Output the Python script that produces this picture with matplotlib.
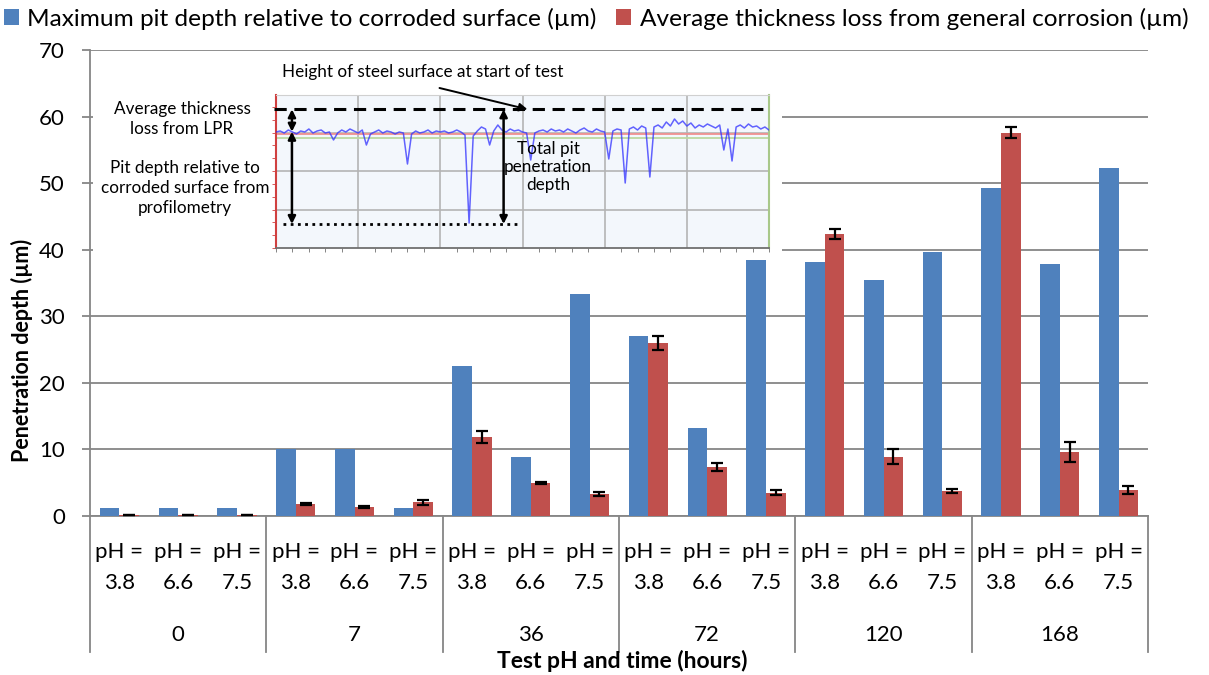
import numpy as np
import matplotlib
matplotlib.use('Agg')
import matplotlib.pyplot as plt
from matplotlib.patches import Rectangle
from matplotlib.transforms import blended_transform_factory

plt.rcParams['font.family'] = ['Lato', 'DejaVu Sans']

# test times (hours) and pH values
hours = ['0', '7', '36', '72', '120', '168']
ph_levels = ['3.8', '6.6', '7.5']

# max pit depth relative to corroded surface (um)
pit_depth = [1.2, 1.2, 1.2,
             10.0, 10.0, 1.2,
             22.6, 8.9, 33.3,
             27.1, 13.2, 38.4,
             38.1, 35.5, 39.6,
             49.2, 37.8, 52.3]
# average thickness loss from general corrosion (um)
thick_loss = [0.15, 0.15, 0.15,
              1.8, 1.35, 2.05,
              11.9, 4.95, 3.3,
              26.0, 7.4, 3.5,
              42.3, 8.9, 3.7,
              57.6, 9.6, 3.9]
thick_err = [0.0, 0.0, 0.0,
             0.1, 0.1, 0.4,
             0.9, 0.2, 0.35,
             1.0, 0.6, 0.35,
             0.75, 1.15, 0.3,
             0.8, 1.5, 0.6]

# profilometry trace in the inset (inset pixel units)
profile = [116, 117, 115, 118, 116, 114, 117, 116, 119, 115,
           117, 118, 115, 116, 108, 115, 118, 116, 119, 117,
           115, 118, 103, 114, 116, 118, 115, 117, 116, 114,
           116, 115, 84, 114, 117, 115, 116, 118, 115, 117,
           116, 117, 115, 116, 118, 116, 113, 25, 112, 117,
           121, 119, 103, 117, 123, 118, 116, 119, 117, 118,
           116, 115, 88, 115, 117, 118, 116, 119, 117, 118,
           116, 119, 117, 115, 118, 120, 117, 116, 119, 117,
           116, 89, 117, 119, 118, 65, 119, 121, 118, 122,
           120, 71, 121, 123, 120, 126, 122, 129, 124, 127,
           122, 125, 120, 123, 121, 124, 122, 120, 123, 98,
           119, 87, 121, 123, 120, 124, 121, 122, 119, 121, 118]

BLUE = '#4F81BD'
RED = '#C0504D'
GRID = '#868686'

W, H = 1209, 675


def fx(px):
    return px / W


def fy(py):
    return 1 - py / H


fig = plt.figure(figsize=(W / 100, H / 100), dpi=100)
ax = fig.add_axes([fx(90), fy(516), fx(1148) - fx(90), fy(50) - fy(516)])

x = np.arange(len(pit_depth))
w = 0.333
ax.bar(x - w / 2, pit_depth, w, color=BLUE, zorder=3,
       label='Maximum pit depth relative to corroded surface (µm)')
ax.bar(x + w / 2, thick_loss, w, color=RED, zorder=3,
       label='Average thickness loss from general corrosion (µm)')
ax.errorbar(x + w / 2, thick_loss, yerr=thick_err, fmt='none', ecolor='black',
            elinewidth=1.6, capsize=4, capthick=1.6, zorder=4)

ax.set_xlim(-0.5, len(x) - 0.5)
ax.set_ylim(0, 70)
ax.set_yticks(range(0, 71, 10))
ax.set_axisbelow(True)
ax.yaxis.grid(True, color=GRID, lw=1.3)
for s in ['top', 'right']:
    ax.spines[s].set_visible(False)
ax.spines['left'].set_color(GRID)
ax.spines['bottom'].set_color(GRID)
ax.spines['left'].set_linewidth(1.3)
ax.spines['bottom'].set_linewidth(1.3)
ax.tick_params(axis='y', direction='out', length=6, width=1.3, color=GRID,
               labelsize=16, pad=12)
ax.set_xticks([])

# category table under the axis
tr = blended_transform_factory(ax.transData, ax.transAxes)
for b in range(len(hours) + 1):
    ax.plot([b * 3 - 0.5] * 2, [0, -0.292], transform=tr, color=GRID, lw=1.3,
            clip_on=False)
for i in range(len(x)):
    ax.text(i, -0.0773, 'pH =', transform=tr, ha='center', va='center', fontsize=16)
    ax.text(i, -0.1438, ph_levels[i % 3], transform=tr, ha='center', va='center',
            fontsize=16)
for g, hr in enumerate(hours):
    ax.text(g * 3 + 1, -0.255, hr, transform=tr, ha='center', va='center', fontsize=16)

fig.text(fx(22), fy(350), 'Penetration depth (µm)', rotation=90, weight='bold',
         fontsize=15.5, ha='center', va='center')
fig.text(fx(622), fy(661), 'Test pH and time (hours)', weight='bold',
         fontsize=16.5, ha='center', va='center')

fig.legend(loc='upper left', bbox_to_anchor=(0.0, 0.994), ncol=2, frameon=False,
           fontsize=17.6, handlelength=0.62, handleheight=0.62, handletextpad=0.35,
           columnspacing=0.8, borderaxespad=0.0, borderpad=0.15)

# white panel behind the profilometry picture
ax.add_patch(Rectangle((fx(93), fy(256)), fx(782) - fx(93), fy(55) - fy(256),
                       transform=fig.transFigure, facecolor='white',
                       edgecolor='none', zorder=2, clip_on=False))

# inset profilometry picture
ins = fig.add_axes([fx(276), fy(248), fx(769) - fx(276), fy(95) - fy(248)],
                   facecolor='#f3f7fc')
ins.set_xlim(0, 6)
ins.set_ylim(0, 153)
ins.set_xticks([1, 2, 3, 4, 5])
ins.set_yticks([38.5, 77, 115.5])
ins.set_xticks(np.arange(0, 6.01, 0.2), minor=True)
ins.set_yticks(np.arange(0, 153, 12.83), minor=True)
ins.tick_params(labelbottom=False, labelleft=False, length=0)
ins.tick_params(which='minor', direction='out', length=3, color='#707070')
ins.tick_params(axis='y', which='minor', color='#d04040')
ins.grid(True, color='#b4b4b4', lw=1.2)
ins.spines['left'].set_color('#d04040')
ins.spines['left'].set_linewidth(1.5)
ins.spines['right'].set_color('#a8c88a')
ins.spines['right'].set_linewidth(1.5)
ins.spines['top'].set_color('#d0d0d0')
ins.spines['bottom'].set_color('#707070')
ins.spines['bottom'].set_linewidth(1.3)

px = np.linspace(0, 6, len(profile))
ins.axhline(114.3, color='#f09090', lw=1.3, zorder=2)
ins.axhline(110.3, color='#bcd8a2', lw=1.3, zorder=2)
ins.plot(px, profile, color='#3030ff', lw=1.1, alpha=0.75, zorder=3)

ins.plot([-0.03, 6], [138.7, 138.7], color='black', lw=2.2, dashes=(4, 2.5),
         clip_on=False, zorder=4)
ins.plot([0.085, 2.93], [24, 24], color='black', lw=2.0, ls=(0, (1, 1.6)), zorder=4)

arrow = dict(arrowstyle='<|-|>', color='black', lw=1.8, mutation_scale=11,
             shrinkA=0, shrinkB=0)
ins.annotate('', xy=(0.194, 138.7), xytext=(0.194, 116.3), arrowprops=arrow)
ins.annotate('', xy=(0.194, 116.3), xytext=(0.194, 24), arrowprops=arrow)
ins.annotate('', xy=(2.77, 138.7), xytext=(2.77, 24), arrowprops=arrow)
ins.annotate('', xy=(3.06, 138.7), xytext=(1.99, 160), annotation_clip=False,
             arrowprops=dict(arrowstyle='-|>', color='black', lw=1.4,
                             mutation_scale=12, shrinkA=0, shrinkB=0))

fs = 12.3
fig.text(fx(423), fy(72), 'Height of steel surface at start of test', fontsize=fs,
         ha='center', va='center')
fig.text(fx(182), fy(119), 'Average thickness\nloss from LPR', fontsize=fs,
         ha='center', va='center', linespacing=1.3)
fig.text(fx(185), fy(188), 'Pit depth relative to\ncorroded surface from\nprofilometry',
         fontsize=fs, ha='center', va='center', linespacing=1.3)
fig.text(fx(548), fy(167), 'Total pit\npenetration\ndepth', fontsize=fs,
         ha='center', va='center', linespacing=1.15)

fig.savefig('out.png', dpi=100)
